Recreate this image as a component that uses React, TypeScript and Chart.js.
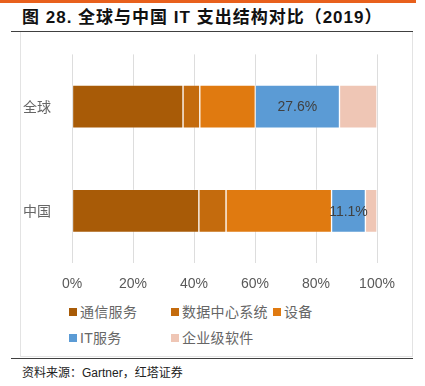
import React, { useEffect, useRef } from "react";
import { Chart, registerables } from "chart.js";

Chart.register(...registerables);

const categories = ["全球", "中国"];
const seriesNames = ["通信服务", "数据中心系统", "设备", "IT服务", "企业级软件"];
const telecom = [36.4, 41.6];
const dataCenter = [5.5, 8.9];
const devices = [18.2, 34.6];
const itServices = [27.6, 11.1];
const software = [12.3, 3.8];
const seriesColors = ["#A85B07", "#C46B0D", "#E07A10", "#5B9BD5", "#EFC6B5"];
const xTicks = [0, 20, 40, 60, 80, 100];
const labeledSeries = "IT服务";

const seriesValues = [telecom, dataCenter, devices, itServices, software];

const labelPlugin = {
  id: "segLabels",
  afterDatasetsDraw(chart: any) {
    const ctx = chart.ctx;
    chart.data.datasets.forEach((ds: any, i: number) => {
      if (ds.label !== labeledSeries) return;
      const meta = chart.getDatasetMeta(i);
      meta.data.forEach((bar: any, j: number) => {
        const v = ds.data[j];
        const cx = (bar.x + bar.base) / 2;
        ctx.save();
        ctx.fillStyle = "#404040";
        ctx.font = "14px 'Liberation Sans', Arial, sans-serif";
        ctx.textAlign = "center";
        ctx.textBaseline = "middle";
        ctx.fillText(v.toFixed(1) + "%", cx, bar.y + 1);
        ctx.restore();
      });
    });
  },
};

const mixFont = "'Liberation Sans', 'Noto Sans CJK SC', sans-serif";

export default function App() {
  const ref = useRef<HTMLCanvasElement>(null);
  useEffect(() => {
    if (!ref.current) return;
    const chart = new Chart(ref.current, {
      type: "bar",
      data: {
        labels: categories,
        datasets: seriesNames.map((n, i) => ({
          label: n,
          data: seriesValues[i],
          backgroundColor: seriesColors[i],
          borderColor: "rgba(255,255,255,0.18)",
          borderWidth: 1,
          borderSkipped: false,
          barThickness: 43,
        })),
      },
      options: {
        indexAxis: "y",
        animation: false,
        responsive: false,
        maintainAspectRatio: false,
        layout: { padding: { left: 0, right: 36, top: 17, bottom: 0 } },
        plugins: { legend: { display: false }, tooltip: { enabled: false } },
        scales: {
          x: {
            stacked: true,
            min: 0,
            max: 100,
            afterBuildTicks: (s: any) => {
              s.ticks = xTicks.map((v) => ({ value: v }));
            },
            afterFit: (s: any) => {
              s.height = 32;
            },
            grid: { color: "#DDDDDD", lineWidth: 1, drawTicks: false },
            border: { display: false },
            ticks: {
              padding: 13,
              color: "#595959",
              font: { size: 14, family: "'Liberation Sans', Arial, sans-serif" },
              callback: (v: any) => v + "%",
            },
          },
          y: {
            stacked: true,
            afterFit: (s: any) => {
              s.width = 52;
            },
            grid: { display: false },
            border: { display: false },
            ticks: {
              padding: 13,
              color: "#666666",
              font: { size: 14, family: "'Noto Sans CJK SC', sans-serif" },
            },
          },
        },
      },
      plugins: [labelPlugin],
    });
    return () => chart.destroy();
  }, []);

  const legendItem = (i: number, left: number, top: number) => (
    <div
      key={i}
      style={{
        position: "absolute",
        left,
        top,
        display: "flex",
        alignItems: "center",
        whiteSpace: "nowrap",
        fontFamily: mixFont,
        fontSize: 14,
        color: "#666666",
        lineHeight: "16px",
        letterSpacing: 0.3,
      }}
    >
      <span
        style={{
          display: "inline-block",
          width: 8,
          height: 8,
          background: seriesColors[i],
          marginRight: 3,
        }}
      />
      <span>{seriesNames[i]}</span>
    </div>
  );

  return (
    <div
      style={{
        position: "absolute",
        left: 0,
        top: 0,
        width: 425,
        height: 386,
        background: "#fff",
        overflow: "hidden",
      }}
    >
      <div style={{ position: "absolute", left: 0, top: 0, width: 416, height: 3, background: "#E8601C" }} />
      <div
        style={{
          position: "absolute",
          left: 22,
          top: 7,
          fontFamily: mixFont,
          fontWeight: "bold",
          fontSize: 17,
          letterSpacing: 1,
          color: "#111",
          lineHeight: "22px",
          whiteSpace: "nowrap",
        }}
      >
        图 28. 全球与中国 IT 支出结构对比（2019）
      </div>
      <div style={{ position: "absolute", left: 11, top: 31, width: 402, height: 1, background: "#404040" }} />
      <div
        style={{
          position: "absolute",
          left: 20,
          top: 32,
          width: 391,
          height: 324,
          border: "1px solid #E3E3E3",
          borderTop: "none",
        }}
      />
      <canvas ref={ref} width={393} height={262} style={{ position: "absolute", left: 20, top: 33, width: 393, height: 262 }} />
      {legendItem(0, 69, 304)}
      {legendItem(1, 171, 304)}
      {legendItem(2, 273, 304)}
      {legendItem(3, 69, 330)}
      {legendItem(4, 171, 330)}
      <div style={{ position: "absolute", left: 11, top: 358, width: 402, height: 1, background: "#404040" }} />
      <div
        style={{
          position: "absolute",
          left: 22,
          top: 365,
          fontFamily: mixFont,
          fontSize: 12,
          color: "#222",
          lineHeight: "16px",
          whiteSpace: "nowrap",
        }}
      >
        资料来源：Gartner，红塔证券
      </div>
    </div>
  );
}
